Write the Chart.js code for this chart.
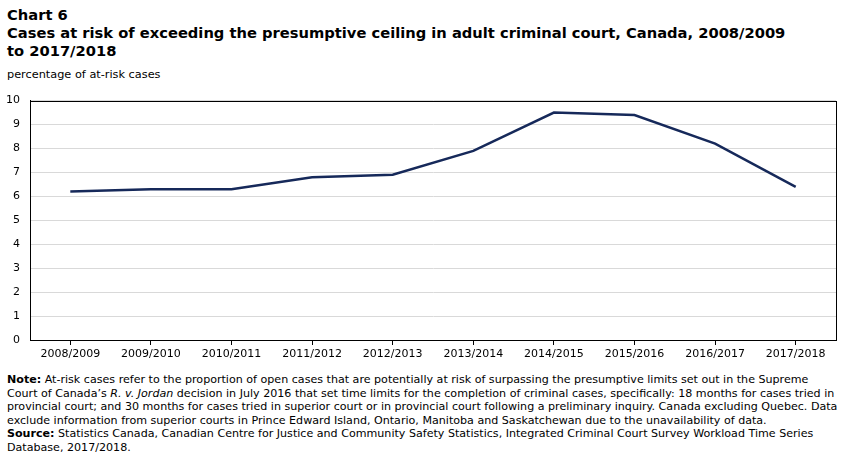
<!DOCTYPE html>
<html>
<head>
<meta charset="utf-8">
<script src="https://cdn.jsdelivr.net/npm/chart.js@4"></script>
<style>
  body { margin: 0; background: #fff; width: 852px; height: 454px; position: relative; overflow: hidden; }
  .title { position: absolute; left: 7px; top: 6px; font-family: "DejaVu Sans", Verdana, sans-serif; font-weight: bold; font-size: 14.7px; line-height: 18px; color: #000; }
  .unit { position: absolute; left: 7px; top: 68px; font-family: "DejaVu Sans", Verdana, sans-serif; font-size: 11.3px; color: #000; }
  .chartbox { position: absolute; left: 0; top: 84px; width: 852px; height: 286px; }
  .note { position: absolute; left: 7px; top: 373px; font-family: "DejaVu Sans", sans-serif; font-size: 11.1px; line-height: 13.5px; color: #000; white-space: nowrap; }
</style>
</head>
<body>
<div class="title">Chart 6<br>Cases at risk of exceeding the presumptive ceiling in adult criminal court, Canada, 2008/2009<br>to 2017/2018</div>
<div class="unit">percentage of at-risk cases</div>
<div class="chartbox"><canvas id="riskChart"></canvas></div>
<div class="note"><b>Note:</b> At-risk cases refer to the proportion of open cases that are potentially at risk of surpassing the presumptive limits set out in the Supreme<br>Court of Canada’s <i>R. v. Jordan</i> decision in July 2016 that set time limits for the completion of criminal cases, specifically: 18 months for cases tried in<br>provincial court; and 30 months for cases tried in superior court or in provincial court following a preliminary inquiry. Canada excluding Quebec. Data<br>exclude information from superior courts in Prince Edward Island, Ontario, Manitoba and Saskatchewan due to the unavailability of data.<br><b>Source:</b> Statistics Canada, Canadian Centre for Justice and Community Safety Statistics, Integrated Criminal Court Survey Workload Time Series<br>Database, 2017/2018.</div>
<script>
const years = ['2008/2009', '2009/2010', '2010/2011', '2011/2012', '2012/2013', '2013/2014', '2014/2015', '2015/2016', '2016/2017', '2017/2018'];
const atRiskPct = [6.2, 6.3, 6.3, 6.8, 6.9, 7.9, 9.5, 9.4, 8.2, 6.4];
const yTicks = [0, 1, 2, 3, 4, 5, 6, 7, 8, 9, 10];

document.addEventListener("DOMContentLoaded", function () {
    const ctx = document.getElementById('riskChart').getContext('2d');

    // black frame round the plot area
    const frame = {
        id: 'frame',
        afterDraw(chart) {
            const a = chart.chartArea;
            const c = chart.ctx;
            c.save();
            c.strokeStyle = '#000';
            c.lineWidth = 1;
            c.strokeRect(Math.round(a.left) + 0.5, Math.round(a.top) + 0.5, Math.round(a.right - a.left), Math.round(a.bottom - a.top));
            c.restore();
        }
    };

    new Chart(ctx, {
        type: 'line',
        data: {
            labels: years,
            datasets: [{
                label: 'percentage of at-risk cases',
                data: atRiskPct,
                borderColor: '#16295a',
                borderWidth: 2.5,
                pointRadius: 0,
                tension: 0,
                fill: false
            }]
        },
        options: {
            responsive: true,
            maintainAspectRatio: false,
            animation: false,
            layout: { padding: { top: 4, right: 16, left: 0, bottom: 0 } },
            plugins: {
                legend: { display: false },
                tooltip: { enabled: false }
            },
            scales: {
                x: {
                    offset: true,
                    afterFit: s => { s.height = 30; },
                    grid: {
                        offset: false,
                        drawOnChartArea: false,
                        drawTicks: true,
                        tickLength: 5,
                        color: '#000'
                    },
                    border: { color: '#000' },
                    ticks: {
                        color: '#000',
                        padding: 3,
                        maxRotation: 0,
                        autoSkip: false,
                        font: { family: 'DejaVu Sans', size: 11 }
                    }
                },
                y: {
                    min: 0,
                    max: 10,
                    afterFit: s => { s.width = 30; },
                    afterBuildTicks: s => { s.ticks = yTicks.map(v => ({ value: v })); },
                    grid: {
                        color: '#d9d9d9',
                        drawTicks: false
                    },
                    border: { color: '#000' },
                    ticks: {
                        color: '#000',
                        padding: 10,
                        font: { family: 'DejaVu Sans', size: 11 }
                    }
                }
            }
        },
        plugins: [frame]
    });
});
</script>
</body>
</html>
